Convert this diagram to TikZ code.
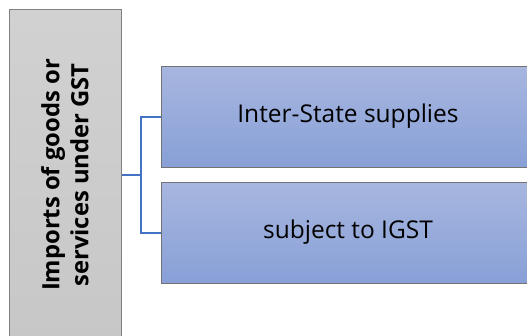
\documentclass[tikz,border=0pt]{standalone}
\usepackage{fontspec}
\setmainfont{Open Sans}
\begin{document}
\begin{tikzpicture}[x=1pt,y=-1pt,
  srcbox/.style={draw=black!50, line width=0.8pt, top color=black!18, bottom color=black!22,
    minimum width=112pt, minimum height=340pt, anchor=north west, inner sep=0pt},
  itembox/.style={draw=black!55, line width=0.8pt, top color=blueA, bottom color=blueB,
    minimum width=374pt, minimum height=101pt, anchor=north west, inner sep=0pt},
  link/.style={draw=linkblue, line width=1.6pt},
  itemtext/.style={font=\fontsize{24.5}{29}\selectfont, text=black}
]
\definecolor{blueA}{HTML}{A7B6DF}
\definecolor{blueB}{HTML}{88A0D7}
\definecolor{linkblue}{HTML}{4472C4}
\useasboundingbox (0,0) rectangle (527,336);
\clip (0,0) rectangle (527,336);
\fill[white] (0,0) rectangle (527,336);

% source column
\node[srcbox] (src) at (9,9) {};
\node[rotate=90, align=center, inner sep=0pt, font=\bfseries\fontsize{23.8}{29}\selectfont] (srctext) at (65,175)
  {Imports of goods or\\services under GST};

% item boxes
\node[itembox] (b1) at (161,66) {};
\node[itembox] (b2) at (161,182) {};
\node[itemtext] (t1) at (348,116) {Inter-State supplies};
\node[itemtext] (t2) at (348,232) {subject to IGST};

% bracket connector
\coordinate (s) at (src.east |- 0,175);
\coordinate (j) at (141,175);
\draw[link] (s) -- (j);
\draw[link] (b1.west) -| (j) |- (b2.west);
\end{tikzpicture}
\end{document}
